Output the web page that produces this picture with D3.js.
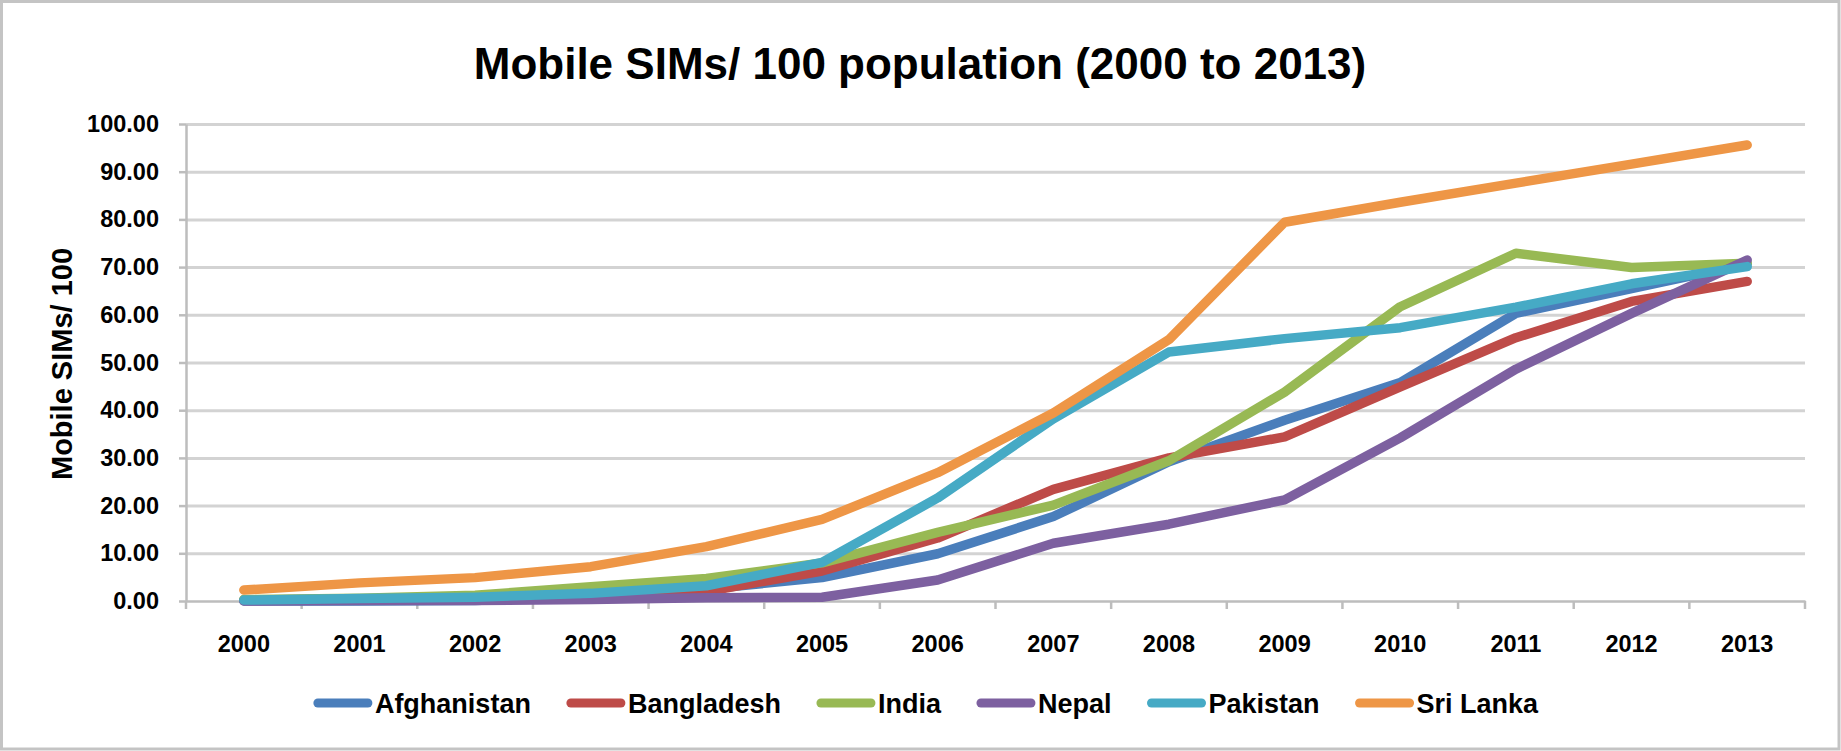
<!DOCTYPE html>
<html>
<head>
<meta charset="utf-8">
<script src="https://cdn.jsdelivr.net/npm/d3@7"></script>
<style>
  html, body { margin: 0; padding: 0; background: #fff; }
  svg { display: block; }
  text { font-family: "Liberation Sans", Arial, sans-serif; fill: #000; }
</style>
</head>
<body>
<svg id="chart" width="1841" height="751"></svg>
<script>
// ---------- data ----------
const years = ["2000","2001","2002","2003","2004","2005","2006","2007","2008","2009","2010","2011","2012","2013"];
const yTicks = [0,10,20,30,40,50,60,70,80,90,100];
const seriesNames = ["Afghanistan","Bangladesh","India","Nepal","Pakistan","Sri Lanka"];
const afghanistan = [0.0, 0.0, 0.1, 0.9, 2.5, 4.9, 9.9, 17.7, 29.2, 37.9, 45.8, 60.3, 65.5, 70.7];
const bangladesh  = [0.2, 0.4, 0.8, 1.0, 2.0, 6.3, 13.2, 23.4, 30.0, 34.4, 44.9, 55.2, 62.8, 67.0];
const india       = [0.3, 0.6, 1.2, 3.0, 4.7, 8.0, 14.4, 20.1, 29.4, 43.8, 61.7, 72.9, 69.9, 70.8];
const nepal       = [0.0, 0.1, 0.1, 0.3, 0.7, 0.8, 4.4, 12.1, 16.1, 21.2, 34.2, 48.6, 60.3, 71.5];
const pakistan    = [0.2, 0.5, 0.8, 1.6, 3.2, 8.1, 21.6, 38.2, 52.2, 55.0, 57.3, 61.6, 66.5, 70.1];
const sriLanka    = [2.3, 3.8, 4.9, 7.2, 11.4, 17.1, 26.9, 39.4, 54.8, 79.4, 83.6, 87.6, 91.6, 95.6];
const seriesValues = [afghanistan, bangladesh, india, nepal, pakistan, sriLanka];
const colors = ["#4a7ebb", "#be4b48", "#98b954", "#7d60a0", "#46aac5", "#ee9646"];

// ---------- layout ----------
const W = 1841, H = 751;
const plot = { left: 186, right: 1805, top: 124, bottom: 601 };

const svg = d3.select("#chart");

// outer border
svg.append("rect")
  .attr("x", 1.5).attr("y", 1.5).attr("width", W - 3.5).attr("height", H - 3.5)
  .attr("fill", "#fff").attr("stroke", "#c4c4c4").attr("stroke-width", 3);

const x = d3.scaleBand().domain(years).range([plot.left, plot.right]);
const y = d3.scaleLinear().domain([0, 100]).range([plot.bottom, plot.top]);
const cx = d => x(d) + x.bandwidth() / 2;

// gridlines
const grid = svg.append("g").attr("transform", `translate(${plot.left},0)`)
  .call(d3.axisLeft(y).tickValues(yTicks.filter(v => v > 0)).tickSize(-(plot.right - plot.left)).tickFormat(""));
grid.select(".domain").remove();
grid.selectAll("line").attr("stroke", "#d3d3d3").attr("stroke-width", 3);

// y axis
const yAxis = svg.append("g").attr("transform", `translate(${plot.left},0)`)
  .call(d3.axisLeft(y).tickValues(yTicks).tickFormat(d3.format(".2f")).tickSize(7).tickPadding(20).tickSizeOuter(0));
yAxis.select(".domain").attr("stroke", "#bdbdbd").attr("stroke-width", 2.5);
yAxis.selectAll("line").attr("stroke", "#bdbdbd").attr("stroke-width", 2.5);
yAxis.selectAll("text").style("font-family", "'Liberation Sans', Arial, sans-serif")
  .style("font-size", "23.5px").style("font-weight", "bold").attr("fill", "#000");

// x axis
const xAxis = svg.append("g").attr("transform", `translate(0,${plot.bottom})`)
  .call(d3.axisBottom(x).tickSize(0).tickPadding(34).tickSizeOuter(0));
xAxis.select(".domain").attr("stroke", "#bdbdbd").attr("stroke-width", 2.5);
xAxis.selectAll("text").style("font-family", "'Liberation Sans', Arial, sans-serif")
  .style("font-size", "23.5px").style("font-weight", "bold").attr("fill", "#000");
// boundary tick marks between categories
const edges = years.map(d => x(d)).concat([x.range()[1]]);
xAxis.selectAll(".edge").data(edges).enter().append("line")
  .attr("x1", d => d).attr("x2", d => d).attr("y1", 0).attr("y2", 8)
  .attr("stroke", "#bdbdbd").attr("stroke-width", 2.5);

// lines
const line = d3.line().x((v, i) => cx(years[i])).y(v => y(v));
seriesValues.forEach((vals, i) => {
  svg.append("path").datum(vals)
    .attr("d", line)
    .attr("fill", "none")
    .attr("stroke", colors[i])
    .attr("stroke-width", 9.5)
    .attr("stroke-linecap", "round")
    .attr("stroke-linejoin", "round");
});

// title
svg.append("text")
  .attr("x", 920).attr("y", 79)
  .attr("text-anchor", "middle")
  .style("font-size", "44px").style("font-weight", "bold")
  .text("Mobile SIMs/ 100 population (2000 to 2013)");

// y axis title
svg.append("text")
  .attr("transform", "translate(62,364) rotate(-90)")
  .attr("text-anchor", "middle")
  .attr("dominant-baseline", "central")
  .style("font-size", "29px").style("font-weight", "bold")
  .text("Mobile SIMs/ 100");

// legend
const legend = svg.append("g");
const lineLen = 58, textGap = 3, itemGap = 36, legY = 703;
let pos = 0;
seriesNames.forEach((name, i) => {
  const g = legend.append("g").attr("transform", `translate(${pos},0)`);
  g.append("line")
    .attr("x1", 4).attr("x2", lineLen - 4).attr("y1", legY).attr("y2", legY)
    .attr("stroke", colors[i]).attr("stroke-width", 9).attr("stroke-linecap", "round");
  const t = g.append("text")
    .attr("x", lineLen + textGap).attr("y", legY + 10)
    .style("font-size", "27px").style("font-weight", "bold")
    .text(name);
  const w = t.node().getComputedTextLength();
  pos += lineLen + textGap + w + itemGap;
});
const total = pos - itemGap;
legend.attr("transform", `translate(${926 - total / 2},0)`);
</script>
</body>
</html>
